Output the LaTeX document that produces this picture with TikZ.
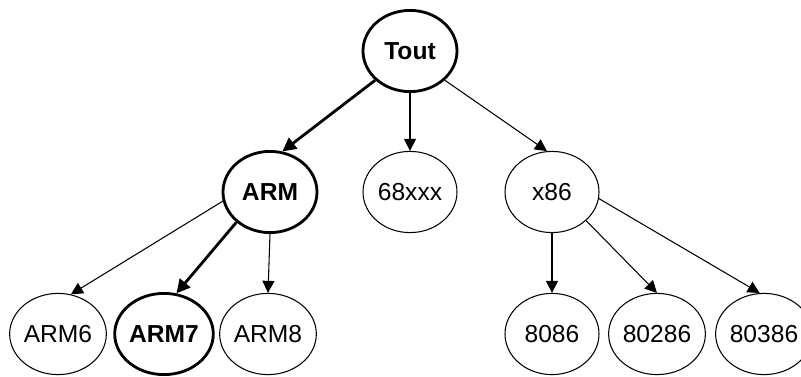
\documentclass[tikz,border=0pt]{standalone}
\usepackage{fontspec}
\setmainfont{Liberation Sans}
\usetikzlibrary{arrows.meta,shapes.geometric}
\begin{document}
\begin{tikzpicture}

\useasboundingbox (0,0) rectangle (20.025,9.4);

%%% Styles

\tikzstyle{chip}=[ellipse, draw, line width=0.75pt, minimum width=2.35cm, minimum height=2.03cm, inner sep=0pt, font=\fontsize{17.5}{20}\selectfont]
\tikzstyle{pick}=[chip, line width=2pt, font=\fontsize{17.5}{20}\selectfont\bfseries]
\tikzstyle{link}=[-{Triangle[length=0.3cm,width=0.3cm]}, line width=0.75pt]
\tikzstyle{strong}=[-{Triangle[length=0.34cm,width=0.34cm]}, line width=2pt]

% Root

\node (Tout) [pick] at (10.25, 8.125) {Tout};

%%% Families

\node (ARM) [pick] at (6.75, 4.6) {ARM};
\node (MC)  [chip] at (10.25, 4.6) {68xxx};
\node (X86) [chip] at (13.8, 4.6) {x86};

%%% Processors

\node (A6) [chip] at (1.45, 1.05) {ARM6};
\node (A7) [pick] at (4.1, 1.05) {ARM7};
\node (A8) [chip] at (6.7, 1.05) {ARM8};

\node (I1) [chip] at (13.8, 1.05) {8086};
\node (I2) [chip] at (16.425, 1.05) {80286};
\node (I3) [chip] at (19.1, 1.05) {80386};

% Top arrows

\draw [strong] (Tout.220) -- (ARM.73);
\draw [link] (Tout.south) -- (MC.north);
\draw [link] (Tout.320) -- (X86.97);

% ARM arrows

\draw [link] (ARM.191) -- (A6.72);
\draw [strong] (ARM.222) -- (A7.73);
\draw [link] (ARM.south) -- (A8.north);

% x86 arrows

\draw [link] (X86.south) -- (I1.north);
\draw [link] (X86.320) -- (I2.north);
\draw [link] (X86.352) -- (I3.96);

\end{tikzpicture}
\end{document}
